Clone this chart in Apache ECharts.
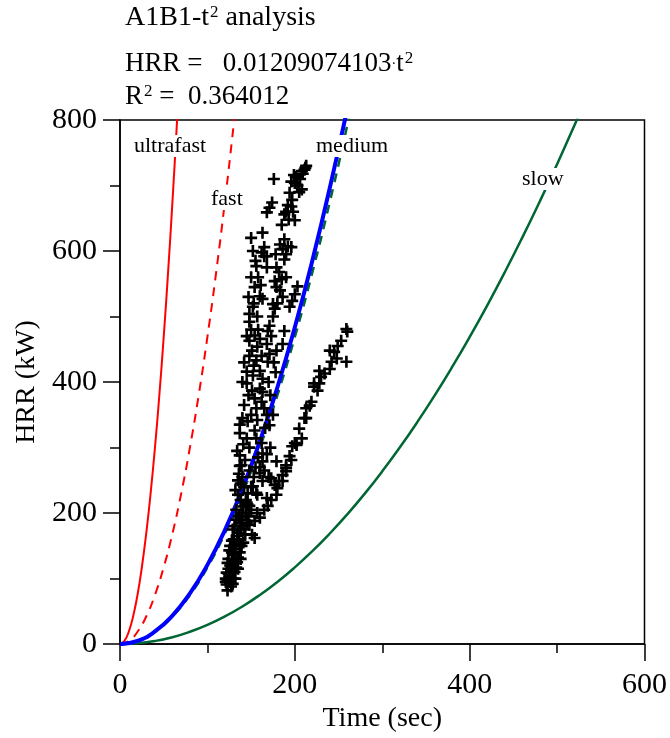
<!DOCTYPE html>
<html>
<head>
<meta charset="utf-8">
<script src="https://cdn.jsdelivr.net/npm/echarts@6/dist/echarts.min.js"></script>
<style>
  html, body { margin: 0; padding: 0; background: #fff; }
  #chart { width: 670px; height: 738px; }
</style>
</head>
<body>
<div id="chart"></div>
<script>
  // reference t-squared curves
  const ultrafastT = [0, 5, 10, 15, 20, 25, 30, 35, 40, 45, 50, 55, 60, 65, 70];
  const ultrafastHRR = [0, 4.7, 18.8, 42.2, 75.0, 117.3, 168.8, 229.8, 300.2, 379.9, 469.0, 567.5, 675.4, 792.6, 919.2];
  const fastT = [0, 10, 20, 30, 40, 50, 60, 70, 80, 90, 100, 110, 120, 130, 140];
  const fastHRR = [0, 4.7, 18.8, 42.2, 75.0, 117.3, 168.8, 229.8, 300.2, 379.9, 469.0, 567.5, 675.4, 792.6, 919.2];
  const mediumT = [0, 20, 40, 60, 80, 100, 120, 140, 160, 180, 200, 220, 240, 260, 280];
  const mediumHRR = [0, 4.7, 18.8, 42.2, 75.0, 117.2, 168.8, 229.7, 300.0, 379.7, 468.8, 567.2, 675.1, 792.3, 918.9];
  const slowT = [0, 20, 40, 60, 80, 100, 120, 140, 160, 180, 200, 220, 240, 260, 280, 300, 320, 340, 360, 380, 400, 420, 440, 460, 480, 500, 520, 540, 560];
  const slowHRR = [0, 1.2, 4.7, 10.5, 18.8, 29.3, 42.2, 57.4, 75.0, 94.9, 117.2, 141.8, 168.8, 198.1, 229.7, 263.7, 300.0, 338.7, 379.7, 423.1, 468.8, 516.8, 567.2, 620.0, 675.1, 732.5, 792.3, 854.4, 918.9];
  // fitted curve HRR = 0.01209 t^2
  const fitT = [0, 20, 40, 60, 80, 100, 120, 140, 160, 180, 200, 220, 240, 260];
  const fitHRR = [0, 4.8, 19.3, 43.5, 77.4, 120.9, 174.1, 237.0, 309.5, 391.7, 483.6, 585.2, 696.4, 817.3];

  // measured points [time, HRR]
  const measured = [
    [176,710],[213,730],[211,724],[209,718],[208,722],[201,713],[196,706],[200,704],[203,700],[208,694],
    [194,689],[197,678],[196,668],[190,660],[188,656],[200,647],[174,674],[171,666],[168,659],[163,628],
    [165,606],[188,618],[192,607],[186,603],[196,606],[190,595],[162,598],[168,592],
    [165,592],[156,577],[168,575],[179,575],[188,587],[182,568],[185,557],[177,554],[179,545],[154,545],
    [160,531],[163,527],[203,546],[200,534],[197,524],[194,515],[175,519],[177,512],[152,515],[148,504],
    [148,492],[171,486],[169,478],[188,478],[154,471],[148,463],[160,466],[168,458],[151,448],[157,454],
    [162,440],[171,443],[179,448],[186,458],
    [156,433],[169,431],[145,416],[152,410],[160,417],[163,405],[145,398],[151,387],[160,390],[163,385],
    [154,375],[162,370],[156,360],[165,360],[140,345],[146,340],[157,342],[171,334],[137,322],[145,314],
    [154,326],[156,314],[162,307],[137,288],[143,281],[163,291],[139,273],[163,279],
    [228,417],[222,398],[226,387],[219,370],[211,345],[205,329],[208,314],[200,307],[197,302],[194,287],
    [190,273],[259,481],[260,477],[253,463],[249,455],[240,448],[245,446],[259,431],[248,436],[242,431],
    [240,420],[234,413],[230,408],[228,398],[222,393],[217,364],[213,360],[213,345],[202,304],[196,281],
    [190,264],[186,249],[180,238],
    [190,269],[186,258],[182,249],[177,243],[179,228],[173,220],[169,211],[165,205],[157,200],[154,188],
    [151,167],[137,272],[160,261],[135,250],[152,241],[156,231],[135,228],[145,216],[148,211],[139,200],
    [133,190],[145,185],[129,175],[135,170],[143,167],[128,158],[133,152],[139,150],[125,143],[129,137],
    [135,132],[123,124],[128,120],[133,117],[122,109],[125,105],[123,97],[122,91],[123,82],
    [154,162],[160,193],[168,223],[173,253],[179,279],[163,249],[157,228],[146,213],[148,182],[143,167],
    [137,152],[131,137],[128,117],[125,102],
    [124,130],[126,150],[130,160],[127,112],[121,100],[126,95],[130,128],[132,145],[136,160],[138,180],
    [140,190],[127,88],[124,115],[129,100],[131,110],[134,125],[137,140],[141,155],[142,175],[144,200],
    [147,195],[150,205],[146,230],[150,240],[153,255],[155,270],[158,285],[148,265],[142,240],[138,220],
    [133,205],[131,180],[136,195],
    [150,620],[152,600],[155,585],[150,560],[158,560],[161,548],[147,530],[153,520],[157,500],[150,480],
    [145,470],[158,480],[142,430],[148,440],[153,425],[140,400],[147,380],[142,365],[150,350],[137,335],
    [141,305],[134,295],[148,300],[136,260],[140,255],[132,235],[138,245],
    [175,500],[180,520],[183,540],[186,530],[190,560],[173,470],[176,430],[178,415],[170,400],[172,380],
    [168,350],[166,330],[175,350],[172,300],[168,290],[160,270],[165,265],[170,255],
    [185,640],[193,648],[198,660],[205,690],[206,710],[212,727],[199,716],[192,670],[183,610],[178,595],
    [126,120],[128,140],[131,150],[134,165],[137,175],[139,185],[141,210],[144,220],[124,108],[121,95],
    [129,92],[132,100],[135,115],[138,130]
  ];

  const xTicks = { min: 0, max: 600, interval: 200 };
  const yTicks = { min: 0, max: 800, interval: 200 };

  const serif = 'Liberation Serif';
  const pairs = (xs, ys) => xs.map((x, i) => [x, ys[i]]);
  const plus = 'path://M0,3.9H10V6.1H0Z M3.9,0H6.1V10H3.9Z';
  const headRich = {
    n: { fontFamily: serif, fontSize: 27, lineHeight: 32, verticalAlign: 'middle', color: '#000' },
    t: { fontFamily: serif, fontSize: 28, lineHeight: 32, verticalAlign: 'middle', color: '#000' },
    s: { fontFamily: serif, fontSize: 17, lineHeight: 17, verticalAlign: 'top', color: '#000', padding: [2, 0, 0, 1] },
    d: { fontFamily: serif, fontSize: 14, lineHeight: 32, verticalAlign: 'middle', color: '#999' }
  };

  const chart = echarts.init(document.getElementById('chart'));
  const option = {
    animation: false,
    backgroundColor: '#fff',
    grid: {
      left: 120, right: 24, top: 120, bottom: 91,
      show: true, borderColor: '#000', borderWidth: 1.5
    },
    xAxis: {
      type: 'value',
      min: xTicks.min, max: xTicks.max, interval: xTicks.interval,
      name: 'Time (sec)',
      nameLocation: 'middle',
      nameGap: 56,
      nameTextStyle: { fontFamily: serif, fontSize: 28, color: '#000' },
      axisLine: { lineStyle: { color: '#000', width: 1.5 } },
      axisTick: { length: 17, lineStyle: { color: '#000', width: 1.5 } },
      minorTick: { show: true, splitNumber: 2, length: 9, lineStyle: { color: '#000', width: 1.5 } },
      axisLabel: { fontFamily: serif, fontSize: 30, color: '#000', margin: 26 },
      splitLine: { show: false }
    },
    yAxis: {
      type: 'value',
      min: yTicks.min, max: yTicks.max, interval: yTicks.interval,
      name: 'HRR (kW)',
      nameLocation: 'middle',
      nameGap: 72,
      nameTextStyle: { fontFamily: serif, fontSize: 28, color: '#000' },
      axisLine: { lineStyle: { color: '#000', width: 1.5 } },
      axisTick: { length: 17, lineStyle: { color: '#000', width: 1.5 } },
      minorTick: { show: true, splitNumber: 2, length: 10, lineStyle: { color: '#000', width: 1.5 } },
      axisLabel: { fontFamily: serif, fontSize: 30, color: '#000', margin: 23 },
      splitLine: { show: false }
    },
    series: [
      {
        name: 'ultrafast', type: 'line', smooth: true, showSymbol: false,
        data: pairs(ultrafastT, ultrafastHRR),
        lineStyle: { color: '#ff0000', width: 2 }
      },
      {
        name: 'fast', type: 'line', smooth: true, showSymbol: false,
        data: pairs(fastT, fastHRR),
        lineStyle: { color: '#ff0000', width: 2, type: [9, 7] }
      },
      {
        name: 'slow', type: 'line', smooth: true, showSymbol: false,
        data: pairs(slowT, slowHRR),
        lineStyle: { color: '#006633', width: 2.5 }
      },
      {
        name: 'medium', type: 'line', smooth: true, showSymbol: false,
        data: pairs(mediumT, mediumHRR),
        lineStyle: { color: '#006633', width: 2.5, type: [9, 7] }
      },
      {
        name: 'fit', type: 'line', smooth: true, showSymbol: false,
        data: pairs(fitT, fitHRR),
        lineStyle: { color: '#0000ff', width: 4 }
      },
      {
        name: 'measured', type: 'scatter',
        symbol: plus, symbolSize: 12,
        itemStyle: { color: '#000', opacity: 1 },
        data: measured,
        z: 5
      }
    ],
    graphic: [
      { type: 'text', left: 125, top: 2, style: { text: '{t|A1B1-t}{s|2}{t| analysis}', rich: headRich } },
      { type: 'text', left: 125, top: 48, style: { text: '{n|HRR =   0.01209074103}{d|·}{n|t}{s|2}', rich: headRich } },
      { type: 'text', left: 125, top: 81, style: { text: '{n|R}{s|2}{n| =  0.364012}', rich: headRich } },
      { type: 'text', left: 134, top: 135, z: 100, style: { text: 'ultrafast', font: '22px "Liberation Serif"', fill: '#000', backgroundColor: '#fff' } },
      { type: 'text', left: 211, top: 188, z: 100, style: { text: 'fast', font: '22px "Liberation Serif"', fill: '#000', backgroundColor: '#fff' } },
      { type: 'text', left: 316, top: 135, z: 100, style: { text: 'medium', font: '22px "Liberation Serif"', fill: '#000', backgroundColor: '#fff' } },
      { type: 'text', left: 522, top: 168, z: 100, style: { text: 'slow', font: '22px "Liberation Serif"', fill: '#000', backgroundColor: '#fff' } }
    ]
  };
  chart.setOption(option);
  window.onresize = function () { chart.resize(); };
</script>
</body>
</html>
